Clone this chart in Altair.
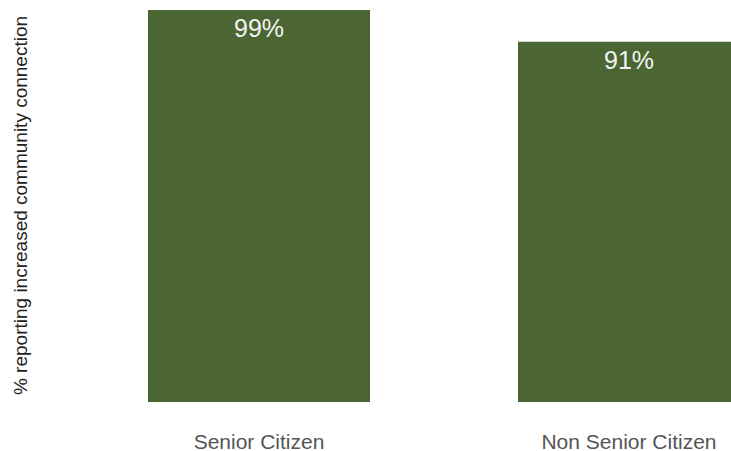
import altair as alt
import pandas as pd

categories = ["Senior Citizen", "Non Senior Citizen"]
values = [99, 91]
labels = ["99%", "91%"]

df = pd.DataFrame({"group": categories, "value": values, "label": labels})

FONT = "Liberation Sans"

x = alt.X(
    "group:N",
    sort=categories,
    scale=alt.Scale(range=[0, 814], paddingInner=0.4, paddingOuter=0.3),
    axis=alt.Axis(
        title=None,
        labelAngle=0,
        labelFontSize=21,
        labelColor="#555555",
        labelFont=FONT,
        labelPadding=29,
        ticks=False,
        domain=False,
        grid=False,
    ),
)
y = alt.Y(
    "value:Q",
    scale=alt.Scale(domain=[0, 99], nice=False, zero=True),
    axis=alt.Axis(
        title="% reporting increased community connection",
        titleFontSize=19,
        titleFont=FONT,
        titleFontWeight="normal",
        titleColor="#222222",
        titleAngle=270,
        titleAlign="center",
        titleBaseline="middle",
        titleX=-17,
        titleY=195,
        labels=False,
        ticks=False,
        domain=False,
        grid=False,
    ),
)

bars = alt.Chart(df).mark_bar(color="#4b6632").encode(x=x, y=y)
text = alt.Chart(df).mark_text(
    baseline="top", dy=7, fontSize=25, font=FONT, color="#f2f2f2"
).encode(x=alt.X("group:N", sort=categories), y="value:Q", text="label:N")

chart = (
    alt.layer(bars, text)
    .properties(
        width=694,
        height=392,
        autosize=alt.AutoSizeParams(type="none"),
        padding={"left": 37, "top": 10, "right": 0, "bottom": 49},
        background="white",
    )
    .configure_view(strokeWidth=0, stroke="transparent")
)

chart.save("out.html", embed_options={"renderer": "svg", "actions": False})
